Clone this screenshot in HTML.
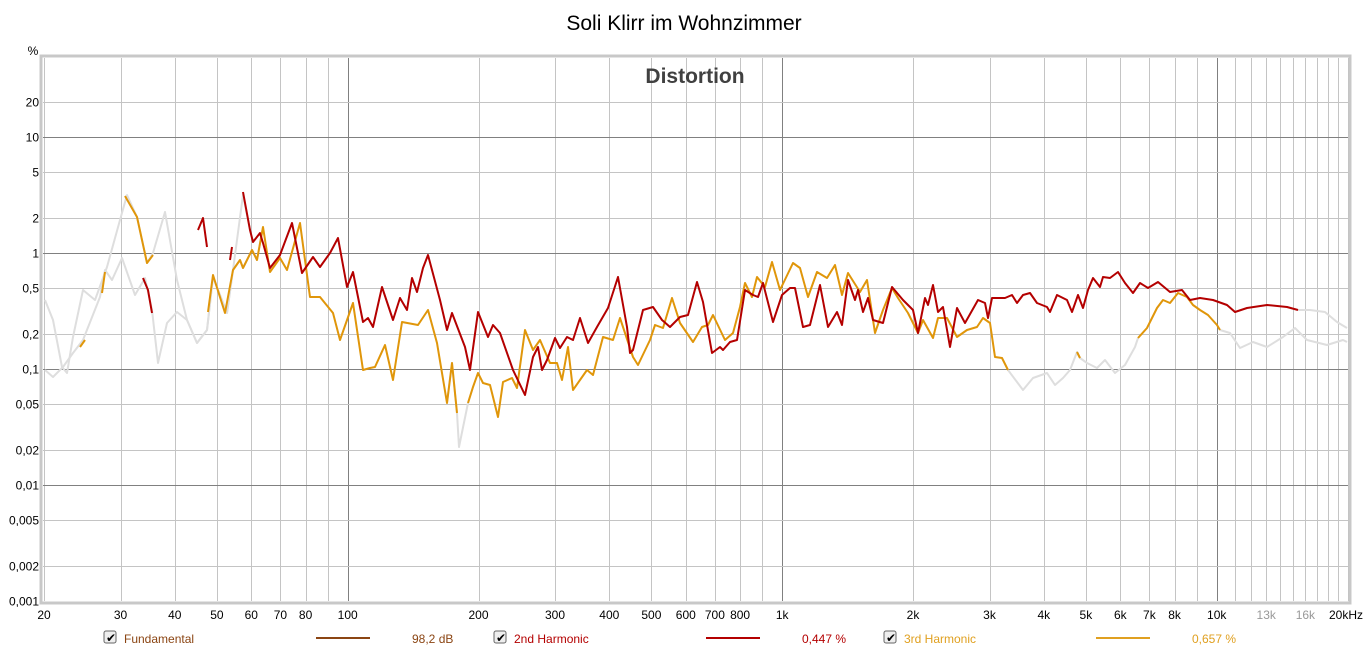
<!DOCTYPE html>
<html><head><meta charset="utf-8"><style>
body{margin:0;background:#fff;width:1369px;height:658px;overflow:hidden;font-family:"Liberation Sans",sans-serif}
</style></head><body>
<svg id="s" width="1369" height="658" xmlns="http://www.w3.org/2000/svg" font-family="Liberation Sans, sans-serif">
<text x="684" y="30" font-size="21" text-anchor="middle" fill="#000">Soli Klirr im Wohnzimmer</text>
<text x="33" y="55" font-size="12" text-anchor="middle" fill="#000">%</text>
<rect x="41" y="56" width="1309" height="547" fill="none" stroke="#c8c8c8" stroke-width="3"/>
<rect x="43" y="58" width="1305" height="543" fill="#fff"/>
<g id="grid"></g>
<text x="695" y="83" font-size="21" font-weight="bold" text-anchor="middle" fill="#404040">Distortion</text>
<g fill="none" stroke-width="2" stroke-linejoin="round">
<polyline stroke="#dedede" points="45,300 53,320 62,367 67,373 73,337 83,290 95,300 107,267 120,220 127,195 137,217 147,263 153,253 165,212 177,280 187,320 197,343 207,330 213,277 227,313 233,270 240,260 243,268 252,250 257,260 263,227"/>
<polyline stroke="#dedede" points="45,370 53,377 63,367 73,353 83,340 100,297 105,270 112,280 122,258 135,295 145,278 152,310 158,363 167,323 177,312 187,320 197,343 207,330 213,277 227,313 233,270 243,195 250,230"/>
<polyline stroke="#dedede" points="447,403 452,363 457,413 459,447 468,403 473,387"/>
<polyline stroke="#dedede" points="1008,370 1017,382 1023,390 1033,378 1047,373 1055,385 1063,378 1070,370 1077,352 1080,358 1087,363 1097,368 1105,360 1115,373 1125,365 1135,347 1138,338"/>
<polyline stroke="#dedede" points="1220,330 1230,333 1240,348 1253,342 1267,347 1283,337 1295,328 1307,340 1327,345 1343,340 1347,342"/>
<polyline stroke="#dedede" points="1298,310 1310,310 1325,312 1337,322 1347,328"/>
<polyline stroke="#e0960a" points="80,347 85,340"/>
<polyline stroke="#e0960a" points="102,293 105,272"/>
<polyline stroke="#e0960a" points="125,196 137,217 147,263 153,255"/>
<polyline stroke="#e0960a" points="208,312 213,275 225,313 233,270 240,260 243,268 252,250 257,260 263,227 270,272 280,258 287,270 300,223 310,297 320,297 333,313 340,340 353,303 363,370 370,368 375,367 385,345 393,380 402,322 418,325 428,310 437,343 447,403 452,363 457,413"/>
<polyline stroke="#e0960a" points="468,403 473,387 478,373 483,383 490,385 498,417 503,382 512,378 517,388 525,330 533,350 540,340 550,363 557,363 562,380 568,347 573,390 580,380 587,370 593,375 603,337 613,340 620,318 633,357 638,365 650,340 655,325 663,328 672,298 680,323 693,342 702,327 708,325 713,315 725,340 733,333 740,307 745,283 752,297 757,277 765,287 772,262 780,290 793,263 800,268 808,297 817,272 827,278 835,265 842,295 848,273 860,292 867,280 875,333 883,310 892,288 898,298 908,313 918,333 923,320 933,338 938,318 947,318 957,337 967,330 977,327 983,318 990,323 995,357 1002,358 1008,370"/>
<polyline stroke="#e0960a" points="1077,352 1080,358"/>
<polyline stroke="#e0960a" points="1138,338 1147,328 1157,308 1163,300 1170,303 1178,293 1187,297 1193,305 1200,310 1208,315 1217,325 1220,330"/>
<polyline stroke="#b40000" points="143,278 148,290 152,313"/>
<polyline stroke="#b40000" points="198,230 203,218 207,247"/>
<polyline stroke="#b40000" points="230,260 232,247"/>
<polyline stroke="#b40000" points="243,192 250,230 253,242 260,233 263,243 270,268 280,255 292,223 302,273 313,257 320,267 330,253 338,238 347,287 353,272 363,322 368,318 373,327 382,287 393,320 400,298 407,310 412,278 417,292 423,268 428,255 440,300 447,330 452,313 465,347 470,370 478,312 488,337 493,325 500,333 513,370 525,395 533,357 538,347 542,370 547,360 555,338 560,348 567,337 573,340 580,318 588,343 597,327 608,308 618,277 627,327 630,353 633,350 643,310 653,307 662,320 670,327 680,317 688,315 697,282 703,302 712,353 720,347 723,350 730,342 737,340 745,290 753,295 758,297 763,283 773,322 782,295 790,288 795,288 803,327 810,325 820,285 828,327 837,312 842,325 848,280 855,300 858,290 863,312 868,298 873,320 883,323 892,287 903,300 913,310 918,333 925,298 928,305 933,285 938,312 943,307 950,347 957,308 965,323 978,300 985,303 988,318 992,298 1005,298 1012,295 1017,303 1023,295 1030,293 1037,303 1047,307 1050,312 1057,295 1067,300 1072,312 1078,295 1083,308 1088,290 1093,278 1100,287 1103,277 1110,278 1118,272 1125,283 1133,293 1140,283 1148,288 1158,282 1170,292 1182,290 1190,300 1200,298 1213,300 1227,305 1235,312 1247,308 1267,305 1287,307 1298,310"/>
</g>
<g id="lab" font-size="12"></g>
<g font-size="12">
<rect x="104" y="631" width="12" height="12" rx="2" fill="#eee" stroke="#666"/><text x="106" y="642" font-size="12">✔</text>
<text x="124" y="643" fill="#8b4513">Fundamental</text>
<line x1="316" y1="638" x2="370" y2="638" stroke="#8b4513" stroke-width="2"/>
<text x="412" y="643" fill="#8b4513">98,2 dB</text>
<rect x="494" y="631" width="12" height="12" rx="2" fill="#eee" stroke="#666"/><text x="496" y="642">✔</text>
<text x="514" y="643" fill="#b40000">2nd Harmonic</text>
<line x1="706" y1="638" x2="760" y2="638" stroke="#b40000" stroke-width="2"/>
<text x="802" y="643" fill="#b40000">0,447 %</text>
<rect x="884" y="631" width="12" height="12" rx="2" fill="#eee" stroke="#666"/><text x="886" y="642">✔</text>
<text x="904" y="643" fill="#e0a020">3rd Harmonic</text>
<line x1="1096" y1="638" x2="1150" y2="638" stroke="#e0a020" stroke-width="2"/>
<text x="1192" y="643" fill="#e0a020">0,657 %</text>
</g>
</svg>
<script>
var ns="http://www.w3.org/2000/svg",g=document.getElementById("grid"),lab=document.getElementById("lab");
function X(f){return 44+434.5*Math.log10(f/20)/Math.log10(10)*1}
function X2(f){return 44+434.5*Math.log10(f/20);}
function Y(v){return 601-116*(Math.log10(v)+3);}
function ln(x1,y1,x2,y2,c){var l=document.createElementNS(ns,"line");l.setAttribute("x1",x1);l.setAttribute("y1",y1);l.setAttribute("x2",x2);l.setAttribute("y2",y2);l.setAttribute("stroke",c);l.setAttribute("stroke-width",1);g.appendChild(l);}
function tx(x,y,s,a,c){var t=document.createElementNS(ns,"text");t.setAttribute("x",x);t.setAttribute("y",y);t.setAttribute("text-anchor",a);t.setAttribute("fill",c||"#000");t.textContent=s;lab.appendChild(t);}
var fs=[];
for(var d=10;d<=10000;d*=10)for(var m=1;m<10;m++){var f=d*m;if(f>=20&&f<=10000)fs.push(f);}
for(var f=11000;f<=20000;f+=1000)fs.push(f);
fs.forEach(function(f){var x=Math.round(X2(f))+0.5;var dec=(f==100||f==1000||f==10000);ln(x,58,x,601,dec?"#808080":"#c4c4c4");});
var ys=[[20,"20"],[10,"10"],[5,"5"],[2,"2"],[1,"1"],[0.5,"0,5"],[0.2,"0,2"],[0.1,"0,1"],[0.05,"0,05"],[0.02,"0,02"],[0.01,"0,01"],[0.005,"0,005"],[0.002,"0,002"],[0.001,"0,001"]];
ys.forEach(function(p){var y=Math.round(Y(p[0]))+0.5;var dec=[10,1,0.1,0.01].indexOf(p[0])>=0;if(p[0]>0.001)ln(43,y,1348,y,dec?"#808080":"#c4c4c4");tx(39,y+4,p[1],"end");});
var xl=[[20,"20"],[30,"30"],[40,"40"],[50,"50"],[60,"60"],[70,"70"],[80,"80"],[100,"100"],[200,"200"],[300,"300"],[400,"400"],[500,"500"],[600,"600"],[700,"700"],[800,"800"],[1000,"1k"],[2000,"2k"],[3000,"3k"],[4000,"4k"],[5000,"5k"],[6000,"6k"],[7000,"7k"],[8000,"8k"],[10000,"10k"],[13000,"13k","#999"],[16000,"16k","#999"]];
xl.forEach(function(p){tx(X2(p[0]),619,p[1],"middle",p[2]);});
tx(1346,619,"20kHz","middle");
</script>
</body></html>
